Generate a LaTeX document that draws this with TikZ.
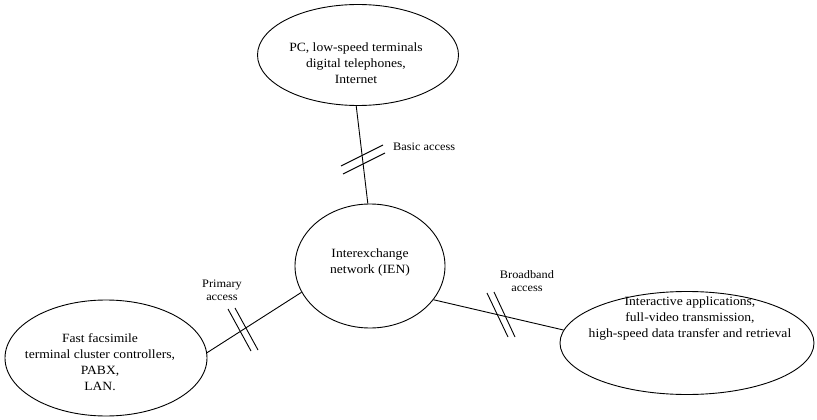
\documentclass[tikz,border=0pt]{standalone}
\usepackage{fontspec}
\setmainfont{Liberation Serif}
\newfontfamily\widefont[FakeStretch=1.08]{Liberation Serif}
\usetikzlibrary{shapes.geometric}
\begin{document}
\begin{tikzpicture}[x=1pt,y=-1pt,
  oval/.style={draw,ellipse,line width=0.9pt,inner sep=0pt},
  txt/.style={align=center,font=\widefont\fontsize{12.6}{16}\selectfont,inner sep=0pt},
  lbl/.style={align=center,font=\widefont\fontsize{11.4}{13}\selectfont,inner sep=0pt},
  link/.style={line width=0.9pt},
  hash/.style={line width=0.9pt}]
\useasboundingbox (0,0) rectangle (817,420);
% ellipses
\node[oval,minimum width=201pt,minimum height=101pt] (top) at (358,55) {};
\node[oval,minimum width=150pt,minimum height=124pt] (ien) at (370,266) {};
\node[oval,minimum width=202pt,minimum height=116pt] (bl) at (106,358) {};
\node[oval,minimum width=254pt,minimum height=103pt] (br) at (687,343) {};
% texts
\node[txt] (ttop) at (356,63) {PC, low-speed terminals\\digital telephones,\\Internet};
\node[txt] (tien) at (370,262) {Interexchange\\network (IEN)};
\node[txt] (tbl) at (100,362) {Fast facsimile\\terminal cluster controllers,\\PABX,\\LAN.};
\node[txt] (tbr) at (690,318) {Interactive applications,\\full-video transmission,\\high-speed data transfer  and retrieval};
% connectors
\draw[link] (top.268) -- (ien.92);
\draw[link] (bl.3) -- (ien.201);
\draw[link] (ien.332) -- (br.174);
% hash marks
\coordinate (h1a) at (341,166); \coordinate (h1b) at (383,145);
\coordinate (h1c) at (343,174); \coordinate (h1d) at (385,153);
\draw[hash] (h1a) -- (h1b); \draw[hash] (h1c) -- (h1d);
\coordinate (h2a) at (228,309); \coordinate (h2b) at (251,351);
\coordinate (h2c) at (235,308); \coordinate (h2d) at (258,350);
\draw[hash] (h2a) -- (h2b); \draw[hash] (h2c) -- (h2d);
\coordinate (h3a) at (487,293); \coordinate (h3b) at (508,337);
\coordinate (h3c) at (494,292); \coordinate (h3d) at (515,337);
\draw[hash] (h3a) -- (h3b); \draw[hash] (h3c) -- (h3d);
% labels
\node[lbl,anchor=west] (basic) at (393,147) {Basic access};
\node[lbl] (primary) at (222,290) {Primary\\access};
\node[lbl] (broad) at (527,281) {Broadband\\access};
\end{tikzpicture}
\end{document}
